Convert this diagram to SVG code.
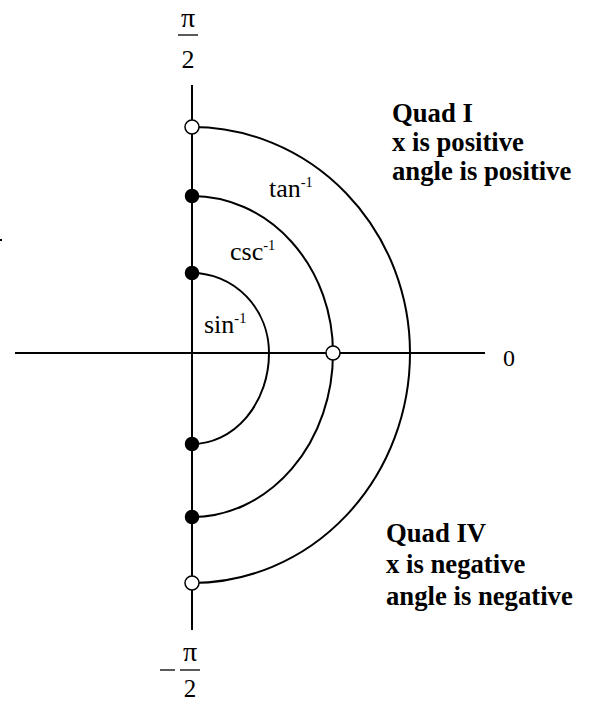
<svg xmlns="http://www.w3.org/2000/svg" width="589" height="702" viewBox="0 0 589 702">
<style>
.ax{stroke:#000;stroke-width:2;fill:none}
.arc{stroke:#000;stroke-width:2;fill:none}
.open{fill:#fff;stroke:#000;stroke-width:1.5}
.fill{fill:#000;stroke:#000;stroke-width:1.5}
.t{font-family:"Liberation Serif","Times New Roman",serif;fill:#000}
.lbl{font-size:26px}
.sup{font-size:14.5px}
.b{font-size:26.7px;font-weight:bold}
</style>
<rect width="589" height="702" fill="#fff"/>
<g id="connectors">
<line class="ax" x1="192" y1="85" x2="192" y2="630"/>
<line class="ax" x1="15" y1="353" x2="485" y2="353"/>
<path id="arc-sin" class="arc" d="M192 273 A77 80 0 0 1 269 353 A77 91 0 0 1 192 444"/>
<path id="arc-csc" class="arc" d="M192 196 A141 157 0 0 1 333 353 A141 164 0 0 1 192 517"/>
<path id="arc-tan" class="arc" d="M192 127 A218 226 0 0 1 410 353 A218 230 0 0 1 192 583"/>
</g>
<g id="points">
<circle class="open" cx="192" cy="127" r="7"/>
<circle class="fill" cx="192" cy="196" r="6.5"/>
<circle class="fill" cx="192" cy="273" r="6.5"/>
<circle class="open" cx="333" cy="353" r="7"/>
<circle class="fill" cx="192" cy="444" r="6.5"/>
<circle class="fill" cx="192" cy="517" r="6.5"/>
<circle class="open" cx="192" cy="583" r="7"/>
</g>
<g id="label-top">
<text class="t" font-size="28" x="188" y="27" text-anchor="middle">π</text>
<line x1="178" y1="35" x2="198" y2="35" stroke="#000" stroke-width="1.3"/>
<text class="t lbl" x="188" y="68" text-anchor="middle">2</text>
</g>
<g id="label-bottom">
<line x1="160" y1="670" x2="175" y2="670" stroke="#000" stroke-width="1.3"/>
<text class="t" font-size="28" x="190" y="661" text-anchor="middle">π</text>
<line x1="180" y1="670" x2="200" y2="670" stroke="#000" stroke-width="1.3"/>
<text class="t" font-size="25" x="190" y="697" text-anchor="middle">2</text>
</g>
<g id="label-zero">
<text class="t" font-size="24" x="503" y="366">0</text>
</g>
<g id="label-tan">
<text class="t lbl" x="269" y="197">tan<tspan class="sup" dy="-10">-1</tspan></text>
</g>
<g id="label-csc">
<text class="t lbl" x="230" y="260">csc<tspan class="sup" dy="-10">-1</tspan></text>
</g>
<g id="label-sin">
<text class="t lbl" x="204" y="333">sin<tspan class="sup" dy="-10">-1</tspan></text>
</g>
<g id="quad1">
<text class="t b" x="392" y="122">Quad I</text>
<text class="t b" x="392" y="151">x is positive</text>
<text class="t b" x="392" y="180">angle is positive</text>
</g>
<g id="quad4">
<text class="t b" x="386" y="542">Quad IV</text>
<text class="t b" x="386" y="573">x is negative</text>
<text class="t b" x="386" y="605">angle is negative</text>
</g>
<rect x="0" y="239" width="2" height="2" fill="#000"/>
</svg>
